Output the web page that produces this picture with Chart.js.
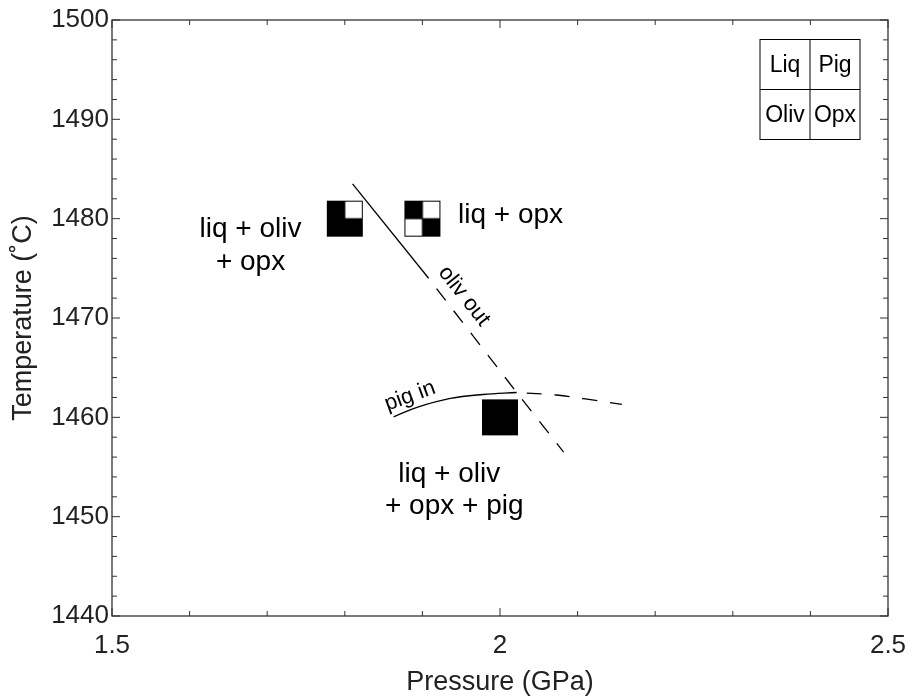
<!DOCTYPE html>
<html>
<head>
<meta charset="utf-8">
<script src="https://cdn.jsdelivr.net/npm/chart.js@4.4.1/dist/chart.umd.min.js"></script>
<style>
html,body{margin:0;padding:0;background:#fff;}
#caja{width:916px;height:700px;}
</style>
</head>
<body>
<div id="caja"><canvas id="grafica" width="916" height="700"></canvas></div>
<script>
//datos
const xTicks=[1.5,2,2.5];
const yTicks=[1440,1450,1460,1470,1480,1490,1500];
const fases=['Liq','Pig','Oliv','Opx'];
//experimentos (presion, temperatura, fases presentes en orden Liq,Pig,Oliv,Opx)
const expP=[1.8,1.9,2.0];
const expT=[1480,1480,1460];
const expFases=[[1,0,1,1],[1,0,0,1],[1,1,1,1]];
//limites de fase
const olivSolidoP=[1.810,1.908];
const olivSolidoT=[1483.5,1474.0];
const olivTrazoP=[1.908,2.0215,2.082];
const olivTrazoT=[1474.0,1462.5,1456.5];
const pigSolidoP=[1.863,1.893,1.936,1.978,2.0215];
const pigSolidoT=[1460.05,1461.0,1461.9,1462.3,1462.5];
const pigTrazoP=[2.0215,2.073,2.110,2.157];
const pigTrazoT=[1462.5,1462.25,1461.85,1461.3];
//textos
const notas=[
  {txt:'liq + opx',p:1.9459,t:1479.56,align:'left'},
  {txt:'liq + oliv',p:1.6785,t:1478.15,align:'center'},
  {txt:'+ opx',p:1.6785,t:1474.8,align:'center'},
  {txt:'liq + oliv',p:1.9345,t:1453.5,align:'center'},
  {txt:'+ opx + pig',p:1.9410,t:1450.3,align:'center'}
];
const notasGiradas=[
  {txt:'oliv out',p:1.9536,t:1472.2,ang:51.7},
  {txt:'pig in',p:1.8841,t:1462.13,ang:-20}
];

const fuente='"Liberation Sans", Arial, Helvetica, sans-serif';

function juntar(px,ty){
  return px.map((v,i)=>({x:v,y:ty[i]}));
}

function cuadrito(f){
  const s=36, h=s/2;
  const c=document.createElement('canvas');
  c.width=s+2; c.height=s+2;
  const g=c.getContext('2d');
  const pos=[[0,0],[h,0],[0,h],[h,h]];
  for(let i=0;i<4;i++){
    g.fillStyle=f[i]?'#000':'#fff';
    g.fillRect(1+pos[i][0],1+pos[i][1],h,h);
  }
  g.strokeStyle='#000';
  g.lineWidth=1;
  g.strokeRect(1.5,1.5,s-1,s-1);
  g.beginPath();
  g.moveTo(1+h,1); g.lineTo(1+h,1+s);
  g.moveTo(1,1+h); g.lineTo(1+s,1+h);
  g.stroke();
  return c;
}

const decoraciones={
  id:'decoraciones',
  afterDatasetsDraw(chart){
    const ctx=chart.ctx;
    const a=chart.chartArea;
    const sx=chart.scales.x, sy=chart.scales.y;
    ctx.save();
    //marco
    ctx.strokeStyle='#333';
    ctx.lineWidth=1.3;
    ctx.strokeRect(a.left,a.top,a.right-a.left,a.bottom-a.top);
    //marcas hacia adentro
    ctx.lineWidth=1;
    ctx.beginPath();
    for(let i=0;i<=10;i++){
      const v=1.5+i*0.1;
      const px=sx.getPixelForValue(v);
      const L=(i%5==0)?8:5;
      ctx.moveTo(px,a.bottom); ctx.lineTo(px,a.bottom-L);
      ctx.moveTo(px,a.top); ctx.lineTo(px,a.top+L);
    }
    for(let i=0;i<=30;i++){
      const v=1440+i*2;
      const py=sy.getPixelForValue(v);
      const L=(i%5==0)?8:5;
      ctx.moveTo(a.left,py); ctx.lineTo(a.left+L,py);
      ctx.moveTo(a.right,py); ctx.lineTo(a.right-L,py);
    }
    ctx.stroke();
    //textos
    ctx.fillStyle='#000';
    ctx.font='28px '+fuente;
    ctx.textBaseline='alphabetic';
    notas.forEach(n=>{
      ctx.textAlign=n.align;
      ctx.fillText(n.txt,sx.getPixelForValue(n.p),sy.getPixelForValue(n.t));
    });
    ctx.font='22px '+fuente;
    ctx.textAlign='center';
    ctx.textBaseline='middle';
    notasGiradas.forEach(n=>{
      ctx.save();
      ctx.translate(sx.getPixelForValue(n.p),sy.getPixelForValue(n.t));
      ctx.rotate(n.ang*Math.PI/180);
      ctx.fillText(n.txt,0,0);
      ctx.restore();
    });
    //clave de fases
    const cel=50;
    const bx=a.right-128, by=a.top+19.5;
    ctx.strokeStyle='#000';
    ctx.lineWidth=1;
    ctx.strokeRect(bx,by,cel*2,cel*2);
    ctx.beginPath();
    ctx.moveTo(bx+cel,by); ctx.lineTo(bx+cel,by+cel*2);
    ctx.moveTo(bx,by+cel); ctx.lineTo(bx+cel*2,by+cel);
    ctx.stroke();
    ctx.font='23px '+fuente;
    fases.forEach((f,i)=>{
      const cx=bx+(i%2)*cel+cel/2;
      const cy=by+Math.floor(i/2)*cel+cel/2+1;
      ctx.fillText(f,cx,cy);
    });
    ctx.restore();
  }
};

const linea={showLine:true,borderColor:'#000',borderWidth:1.3,pointRadius:0,fill:false};

new Chart(document.getElementById('grafica'),{
  type:'scatter',
  data:{
    datasets:[
      Object.assign({label:'oliv out',data:juntar(olivSolidoP,olivSolidoT),tension:0},linea),
      Object.assign({label:'oliv out (extrap.)',data:juntar(olivTrazoP,olivTrazoT),tension:0,borderDash:[15,13],borderDashOffset:15},linea),
      Object.assign({label:'pig in',data:juntar(pigSolidoP,pigSolidoT),tension:0.4},linea),
      Object.assign({label:'pig in (extrap.)',data:juntar(pigTrazoP,pigTrazoT),tension:0.4,borderDash:[15,13],borderDashOffset:18},linea),
      {
        label:'experimentos',
        data:juntar(expP,expT),
        pointStyle:expFases.map(f=>cuadrito(f)),
        pointRadius:18,
        showLine:false
      }
    ]
  },
  options:{
    responsive:false,
    animation:false,
    devicePixelRatio:1,
    layout:{padding:{top:20,right:28,left:0,bottom:0}},
    plugins:{legend:{display:false},tooltip:{enabled:false}},
    events:[],
    scales:{
      x:{
        type:'linear',min:1.5,max:2.5,position:'bottom',
        grid:{display:false,drawTicks:false},
        border:{display:false},
        afterBuildTicks:s=>{s.ticks=xTicks.map(v=>({value:v}));},
        afterFit:s=>{s.height=84;s.paddingLeft=0;s.paddingRight=0;},
        ticks:{padding:14,color:'#222',maxRotation:0,autoSkip:false,
          font:{family:fuente,size:26,lineHeight:1.2},
          callback:v=>String(v)},
        title:{display:true,text:'Pressure (GPa)',color:'#222',
          font:{family:fuente,size:27,lineHeight:1.2},padding:{top:0,bottom:1}}
      },
      y:{
        type:'linear',min:1440,max:1500,position:'left',
        grid:{display:false,drawTicks:false},
        border:{display:false},
        afterBuildTicks:s=>{s.ticks=yTicks.map(v=>({value:v}));},
        afterFit:s=>{s.width=112;s.paddingTop=0;s.paddingBottom=0;},
        ticks:{padding:3,color:'#222',autoSkip:false,
          font:{family:fuente,size:26,lineHeight:1.2},
          callback:v=>String(v)},
        title:{display:true,text:'Temperature (˚C)',color:'#222',
          font:{family:fuente,size:27,lineHeight:1.2},padding:{top:7,bottom:0}}
      }
    }
  },
  plugins:[decoraciones]
});
</script>
</body>
</html>
